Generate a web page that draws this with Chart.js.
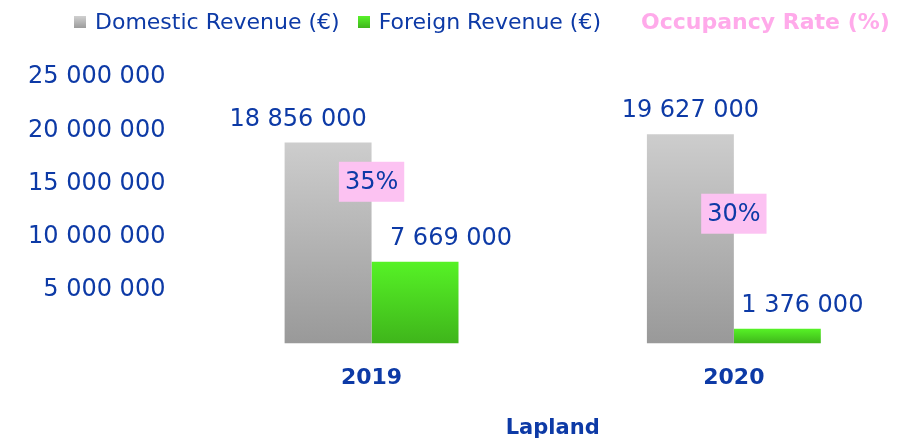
<!DOCTYPE html>
<html>
<head>
<meta charset="utf-8">
<script src="https://cdn.jsdelivr.net/npm/chart.js@4.4.1/dist/chart.umd.min.js"></script>
<style>
  html, body { margin: 0; padding: 0; background: #fff; }
  #wrap { position: relative; width: 915px; height: 444px; }
  #legend {
    position: absolute; left: 74px; top: 9px;
    display: flex; align-items: center;
    font-family: "DejaVu Sans", sans-serif;
    font-size: 22px; color: #0d3aa6; white-space: nowrap;
  }
  #legend .box { width: 12px; height: 12px; margin-right: 9px; display: inline-block; }
  #legend .item { display: flex; align-items: center; margin-right: 18px; }
  #legend .occ { color: #ffaaea; font-weight: bold; margin-left: 22px; }
</style>
</head>
<body>
<div id="wrap">
  <canvas id="chart" width="915" height="444"></canvas>
  <div id="legend">
    <span class="item"><span class="box" style="background:linear-gradient(#d0d0d0,#9c9c9c)"></span>Domestic Revenue (€)</span>
    <span class="item"><span class="box" style="background:linear-gradient(#58f22a,#3fb51c)"></span>Foreign Revenue (€)</span>
    <span class="occ">Occupancy Rate (%)</span>
  </div>
</div>
<script>
// --- data ---
const years = ['2019', '2020'];
const domesticRevenue = [18856000, 19627000];
const foreignRevenue = [7669000, 1376000];
const occupancyRate = [35, 30];
const yTicks = [5000000, 10000000, 15000000, 20000000, 25000000];

const FONT = '"DejaVu Sans", sans-serif';
const BLUE = '#0d3aa6';

// 18856000 -> "18 856 000"
function fmt(v) {
    return String(v).replace(/\B(?=(\d{3})+(?!\d))/g, ' ');
}

// vertical gradient per bar, top -> bottom
function barGradient(top, bottom) {
    return ctx => {
        const chart = ctx.chart;
        if (!chart.chartArea || ctx.raw == null) return top;
        const y = chart.scales.y;
        const y0 = y.getPixelForValue(0);
        const y1 = y.getPixelForValue(ctx.raw);
        const g = chart.ctx.createLinearGradient(0, y1, 0, y0);
        g.addColorStop(0, top);
        g.addColorStop(1, bottom);
        return g;
    };
}

// value labels over the bars + pink boxes for occupancy
const labelPlugin = {
    id: 'valueLabels',
    afterDatasetsDraw(chart) {
        const c = chart.ctx;
        c.save();
        c.font = '24px ' + FONT;
        c.fillStyle = BLUE;
        c.textAlign = 'center';
        c.textBaseline = 'middle';
        // bar labels (small x shifts like the source)
        const shifts = [[-30, 0], [36, 25]];
        [0, 1].forEach(di => {
            chart.getDatasetMeta(di).data.forEach((bar, i) => {
                const v = chart.data.datasets[di].data[i];
                c.fillText(fmt(v), bar.x + shifts[di][i], bar.y - 23);
            });
        });
        // occupancy boxes
        chart.getDatasetMeta(2).data.forEach((pt, i) => {
            const txt = chart.data.datasets[2].data[i] + '%';
            const w = c.measureText(txt).width + 12;
            const h = 40;
            c.fillStyle = '#fcc2f2';
            c.fillRect(pt.x - w / 2, pt.y - h / 2, w, h);
            c.fillStyle = BLUE;
            c.fillText(txt, pt.x, pt.y + 1);
        });
        c.restore();
    }
};

new Chart(document.getElementById('chart'), {
    type: 'bar',
    data: {
        labels: years,
        datasets: [
            {
                label: 'Domestic Revenue (€)',
                data: domesticRevenue,
                backgroundColor: barGradient('#cdcdcd', '#999999'),
                borderWidth: 0,
                categoryPercentage: 0.48,
                barPercentage: 1.0,
                order: 2
            },
            {
                label: 'Foreign Revenue (€)',
                data: foreignRevenue,
                backgroundColor: barGradient('#56f226', '#3fb51b'),
                borderWidth: 0,
                categoryPercentage: 0.48,
                barPercentage: 1.0,
                order: 2
            },
            {
                type: 'line',
                label: 'Occupancy Rate (%)',
                data: occupancyRate,
                yAxisID: 'y1',
                showLine: false,
                pointRadius: 0,
                borderColor: '#fcc2f2',
                backgroundColor: '#fcc2f2',
                order: 1
            }
        ]
    },
    options: {
        responsive: false,
        animation: false,
        layout: { padding: { top: 77, left: 3, right: 0, bottom: 3 } },
        plugins: {
            legend: { display: false },
            tooltip: { enabled: false }
        },
        scales: {
            x: {
                grid: { display: false, drawTicks: false },
                border: { display: false },
                ticks: {
                    color: BLUE,
                    padding: 22,
                    font: { family: FONT, size: 22, weight: 'bold' }
                },
                title: {
                    display: true,
                    text: 'Lapland',
                    color: BLUE,
                    padding: { top: 2, bottom: 0 },
                    font: { family: FONT, size: 21, weight: 'bold' }
                }
            },
            y: {
                min: 0,
                max: 25000000,
                grid: { display: false, drawTicks: false },
                border: { display: false },
                afterBuildTicks: axis => {
                    axis.ticks = yTicks.map(v => ({ value: v }));
                },
                ticks: {
                    color: BLUE,
                    padding: 25,
                    font: { family: FONT, size: 24 },
                    callback: v => fmt(v)
                }
            },
            y1: {
                display: false,
                min: 9.7,
                max: 51.4
            }
        }
    },
    plugins: [labelPlugin]
});
</script>
</body>
</html>
